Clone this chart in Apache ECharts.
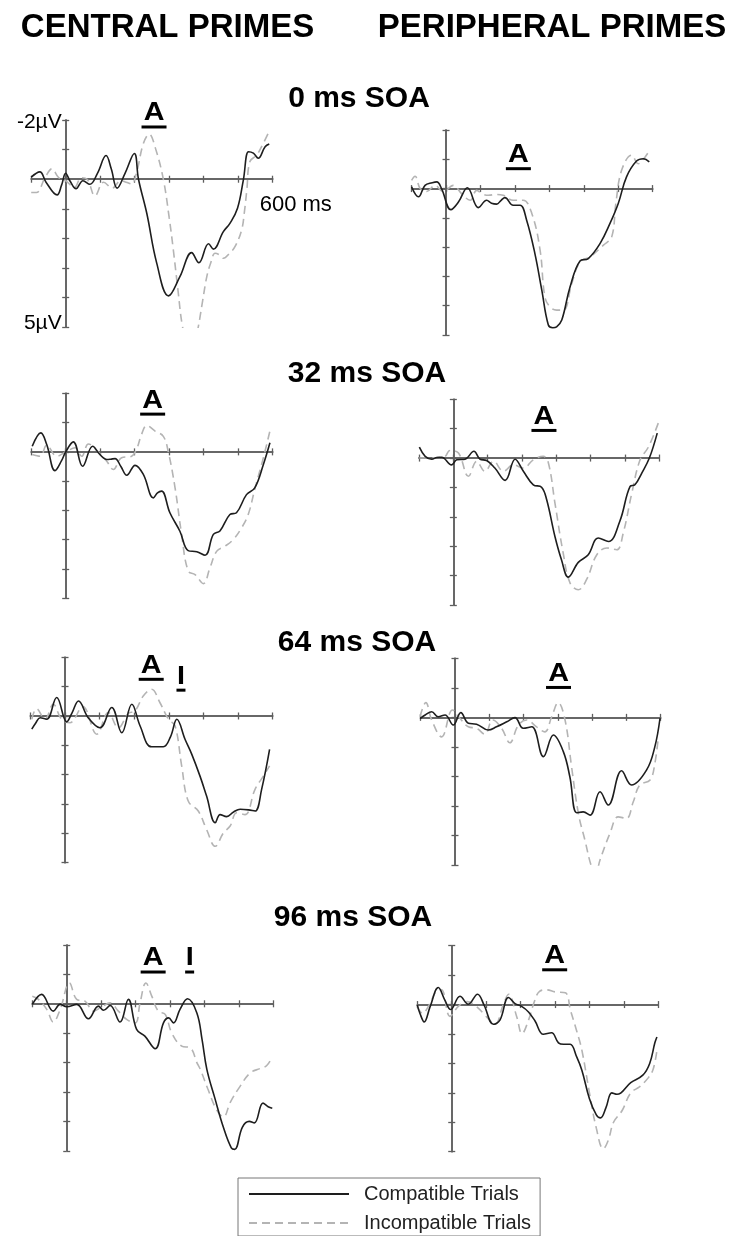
<!DOCTYPE html>
<html lang="en">
<head>
<meta charset="UTF-8">
<title>Central vs peripheral primes</title>
<script src="https://cdn.jsdelivr.net/npm/echarts@6/dist/echarts.min.js"></script>
<style>
  html, body { margin: 0; padding: 0; background: #fff; }
  #main { width: 739px; height: 1236px; }
</style>
</head>
<body>
<div id="main"></div>
<script>
// ---- data: [time ms, amplitude µV] ----
var central0Comp = [[-100,-0.07],[-75,-0.25],[-57,0.1],[-25,0.53],[-12,0.2],[0,-0.2],[12,0.05],[30,0.32],[50,0.05],[70,0.17],[92,-0.2],[117,-0.8],[132,-0.35],[149,0.3],[172,-0.2],[199,-0.87],[211,0],[235,1.15],[264,2.84],[298,3.94],[331,3.29],[365,2.48],[386,2.82],[414,2.18],[428,2.36],[457,1.77],[476,1.49],[498,0.98],[515,0.02],[530,-0.93],[544,-0.88],[558,-0.71],[578,-1.1],[590,-1.19]];
var central0Incomp = [[-100,0.45],[-85,0.45],[-60,-0.05],[-40,-0.35],[-20,-0.05],[0,0.05],[25,0.28],[45,-0.05],[62,0.0],[85,0.56],[110,0.1],[135,0.3],[160,0.05],[175,0.1],[191,0.16],[205,-0.2],[225,-1.2],[242,-1.52],[260,-1.05],[283,0],[300,1.3],[312,2.39],[325,3.7],[339,5.0],[355,5.6],[372,5.6],[384,5.0],[397,4.1],[409,3.29],[421,2.8],[433,2.5],[445,2.55],[457,2.67],[475,2.5],[491,2.27],[510,1.71],[518,1.1],[525,0.36],[534,-0.6],[554,-0.82],[573,-1.22],[587,-1.55]];
var peripheral0Comp = [[-100,-0.06],[-80,0.28],[-61,-0.11],[-40,-0.2],[-27,-0.23],[-13,0],[14,0.72],[36,0.46],[62,-0.03],[94,0.65],[118,0.4],[132,0.5],[147,0.53],[160,0.4],[171,0.31],[195,0.57],[215,0.57],[234,1.08],[258,2.22],[278,3.47],[297,4.66],[310,4.75],[321,4.72],[336,4.49],[360,3.36],[389,2.47],[413,2.39],[447,1.88],[476,1.19],[500,0.51],[524,-0.4],[553,-0.94],[573,-1.02],[590,-0.91]];
var peripheral0Incomp = [[-100,-0.28],[-90,-0.42],[-75,0],[-56,0.1],[-32,-0.11],[-8,0.11],[21,-0.11],[45,0.17],[70,0.4],[89,0.06],[105,0.18],[123,0.23],[145,0.2],[166,0.23],[195,0.4],[224,0.4],[249,0.85],[273,2.1],[287,3.7],[302,4.04],[321,4.15],[341,4.15],[365,3.24],[389,2.5],[418,2.33],[457,1.93],[481,1.65],[493,0.51],[510,-0.63],[539,-1.14],[558,-0.85],[578,-1.08],[592,-1.33]];
var central32Comp = [[-97,-0.19],[-72,-0.65],[-55,-0.25],[-31,0.64],[-12,0.3],[0,0],[22,-0.34],[49,0.49],[78,-0.19],[99,0.09],[119,0.26],[130,0.25],[143,0.23],[160,0.5],[177,0.8],[201,0.46],[225,0.77],[254,1.57],[266,1.4],[278,1.34],[302,2.08],[331,2.71],[355,3.37],[380,3.41],[404,3.53],[428,2.82],[447,2.7],[476,2.14],[495,2.08],[524,1.46],[548,1.23],[573,0.43],[592,-0.31]];
var central32Incomp = [[-97,0.09],[-74,0.15],[-55,-0.23],[-26,0.15],[3,-0.02],[27,-0.14],[46,0.15],[66,-0.27],[90,-0.05],[119,0.32],[138,0.6],[162,0.2],[191,0.15],[206,-0.11],[220,-0.6],[235,-0.9],[259,-0.71],[283,-0.53],[297,-0.02],[317,1.23],[336,2.82],[355,4.07],[375,4.19],[399,4.5],[418,3.96],[438,3.39],[462,3.22],[486,2.99],[510,2.59],[529,2.14],[549,1.23],[573,0.2],[594,-0.82]];
var peripheral32Comp = [[-99,-0.37],[-82,-0.06],[-63,0.04],[-48,-0.02],[-34,-0.03],[-5,0.23],[10,0.06],[34,0.04],[60,-0.23],[78,0.04],[97,0.08],[121,0.34],[151,0.76],[180,0.04],[204,0.45],[233,0.91],[257,0.99],[272,1.42],[296,2.67],[315,3.46],[335,4.05],[364,3.55],[393,3.29],[422,2.72],[452,2.84],[485,2.15],[515,0.96],[529,0.91],[549,0.51],[571,0],[594,-0.85]];
var peripheral32Incomp = [[-99,0],[-48,-0.02],[-25,-0.05],[-10,-0.26],[15,-0.17],[44,0.62],[68,0.11],[92,0.45],[117,0.11],[146,0.45],[175,0.23],[204,0.34],[233,0.06],[262,-0.06],[277,0.17],[296,1.53],[320,3.23],[340,4.25],[364,4.48],[388,4.14],[418,3.29],[447,3.06],[476,3.12],[495,2.55],[520,1.19],[544,0.06],[568,-0.37],[597,-1.19]];
var central64Comp = [[-96,0.45],[-85,0.25],[-72,0.06],[-53,0.11],[-24,-0.63],[5,0.2],[20,-0.1],[39,-0.51],[67,0.06],[101,0.4],[135,-0.29],[164,0.57],[193,-0.4],[217,0.34],[250,1.05],[284,1.05],[305,0.7],[323,0.11],[347,0.8],[366,1.3],[390,2.05],[409,2.73],[434,3.64],[448,3.36],[467,3.43],[487,3.27],[506,3.18],[530,3.2],[549,3.24],[568,2.5],[591,1.14]];
var central64Incomp = [[-96,0.11],[-82,-0.25],[-58,0.11],[-34,-0.4],[-10,0.11],[14,0.23],[51,-0.32],[92,0.62],[125,-0.12],[154,0.4],[183,-0.09],[202,-0.17],[226,-0.68],[250,-0.91],[274,-0.46],[299,0.11],[318,0.34],[337,1.7],[356,2.9],[385,3.24],[409,3.87],[434,4.44],[458,3.98],[477,3.75],[496,3.3],[520,3.36],[549,2.5],[573,2.05],[591,1.7]];
var peripheral64Comp = [[-102,0.04],[-87,-0.08],[-68,-0.19],[-49,-0.02],[-29,-0.08],[-5,0.26],[17,-0.16],[39,0.2],[63,0.23],[97,0.43],[121,0.32],[151,0.15],[175,0.01],[199,0.37],[224,0.32],[258,1.33],[287,0.6],[316,1.16],[335,2.01],[355,3.23],[374,3.2],[394,3.31],[423,2.52],[447,2.97],[486,1.81],[515,2.29],[559,1.78],[583,0.99],[598,0.03]];
var peripheral64Incomp = [[-102,-0.02],[-85,-0.5],[-68,0.09],[-39,0.66],[-7,-0.25],[15,0.04],[39,0.32],[63,0.37],[87,0.57],[110,0.09],[136,0.37],[160,0.86],[185,0.26],[209,0.09],[238,0.32],[262,0.49],[282,-0.02],[301,-0.5],[321,0.09],[340,1.67],[360,3.26],[379,4.16],[398,5.05],[410,5.3],[423,4.83],[452,3.93],[476,3.37],[500,3.42],[520,2.86],[539,2.29],[569,2.12],[583,1.56],[593,0.66]];
var central96Comp = [[-100,0.02],[-73,-0.32],[-39,0.25],[-19,0.02],[0,0.1],[29,0.02],[63,0.51],[92,0.08],[107,0.22],[126,0.06],[155,0.62],[179,-0.15],[203,0.87],[227,1.1],[257,1.53],[281,0.65],[296,0.48],[310,0.65],[329,0.19],[351,-0.17],[378,0.31],[393,1.21],[407,2.23],[430,3.2],[455,4.2],[478,4.9],[488,4.95],[510,4.2],[530,4.0],[545,4.05],[570,3.38],[585,3.5],[597,3.55]];
var central96Incomp = [[-100,-0.26],[-82,-0.15],[-58,0.19],[-39,0.62],[-19,0.19],[8,-0.71],[29,-0.15],[53,-0.09],[78,0.25],[102,0.1],[126,-0.03],[150,0.25],[174,0.53],[199,0.65],[213,-0.03],[230,-0.71],[247,-0.26],[266,0.25],[286,0.36],[305,0.99],[334,1.44],[359,1.5],[378,2.0],[388,2.23],[410,2.9],[435,3.6],[455,3.85],[475,3.35],[504,2.8],[533,2.35],[562,2.2],[581,2.1],[597,1.8]];
var peripheral96Comp = [[-100,0.02],[-92,0.31],[-80,0.59],[-63,0.08],[-39,-0.58],[-20,-0.15],[-3,0.17],[24,-0.28],[48,-0.01],[75,-0.35],[94,0.02],[121,0.67],[140,0.53],[165,-0.24],[184,-0.03],[203,0.06],[223,0.25],[242,0.56],[266,1.01],[290,0.96],[310,1.3],[325,1.35],[344,1.35],[363,1.78],[378,2.23],[400,3.2],[420,3.75],[432,3.85],[448,3.5],[465,3.0],[480,3.05],[520,2.65],[555,2.4],[575,2.0],[590,1.3],[596,1.1]];
var peripheral96Incomp = [[-100,0.06],[-85,0.3],[-65,0.0],[-45,-0.45],[-30,-0.5],[-5,0.4],[20,0.05],[45,-0.1],[70,0.05],[100,0.4],[125,0.67],[150,0.0],[165,-0.35],[189,0.42],[204,0.99],[223,0.53],[240,-0.1],[255,-0.45],[275,-0.5],[300,-0.43],[330,-0.4],[345,0.2],[363,0.9],[378,1.55],[400,3.0],[420,4.2],[440,4.9],[455,4.6],[470,4.0],[495,3.6],[520,3.0],[545,2.8],[570,2.5],[585,2.2],[596,1.55]];

var compatible = [central0Comp, peripheral0Comp, central32Comp, peripheral32Comp, central64Comp, peripheral64Comp, central96Comp, peripheral96Comp];
var incompatible = [central0Incomp, peripheral0Incomp, central32Incomp, peripheral32Incomp, central64Incomp, peripheral64Incomp, central96Incomp, peripheral96Incomp];

var columnTitles = ['CENTRAL PRIMES', 'PERIPHERAL PRIMES'];
var soaTitles = ['0 ms SOA', '32 ms SOA', '64 ms SOA', '96 ms SOA'];
var seriesNames = ['Compatible Trials', 'Incompatible Trials'];
// component markers: [panel, label, time ms, µV]
var markers = [[0,'A',256,-2.22],[1,'A',210,-1.14],[2,'A',252,-1.75],[3,'A',264,-1.4],[4,'A',249,-1.71],[4,'I',335,-1.34],[5,'A',302,-1.47],[6,'A',251,-1.54],[6,'I',357,-1.54],[7,'A',299,-1.64]];
var unitLabels = ['-2\u00b5V', '5\u00b5V', '600 ms'];
var timeMin = -100, timeMax = 600, timeStep = 100;
var voltMin = -2, voltMax = 5, voltStep = 1;

// ---- layout (pixels) ----
var gridBoxes = [
  [31.2, 120, 241.5, 207.3], [411.6, 130, 241.1, 205],
  [31.2, 393.3, 241.5, 205], [419, 399.3, 240.3, 205.7],
  [30.4, 657.3, 242.3, 205.4], [420.7, 658.3, 240, 206.7],
  [32.3, 945, 241, 205.8], [417.3, 945.7, 241, 206]
];
var columnTitleX = [167.5, 552];
var soaTitlePos = [[359, 99], [367, 374], [357, 643], [353, 918]];

var axisColor = '#5e5e5e';
var font = '"Liberation Sans", Arial, sans-serif';

var chart = echarts.init(document.getElementById('main'));

var grids = [], xAxes = [], yAxes = [], series = [];
gridBoxes.forEach(function (b, i) {
  grids.push({ left: b[0], top: b[1], width: b[2], height: b[3], outerBoundsMode: 'none' });
  ['bottom', 'top'].forEach(function (pos) {
    xAxes.push({
      gridIndex: i, type: 'value', position: pos,
      min: timeMin, max: timeMax, interval: timeStep,
      axisLine: { show: true, onZero: true, lineStyle: { color: axisColor, width: 1.5 } },
      axisTick: { show: true, length: 3.5, lineStyle: { color: axisColor, width: 1.3 } },
      axisLabel: { show: false },
      splitLine: { show: false }
    });
  });
  ['left', 'right'].forEach(function (pos) {
    yAxes.push({
      gridIndex: i, type: 'value', position: pos, inverse: true,
      min: voltMin, max: voltMax, interval: voltStep,
      axisLine: { show: true, onZero: true, lineStyle: { color: axisColor, width: 1.5 } },
      axisTick: { show: true, length: 3.5, lineStyle: { color: axisColor, width: 1.3 } },
      axisLabel: { show: false },
      splitLine: { show: false }
    });
  });
  series.push({
    name: seriesNames[1], type: 'line', xAxisIndex: 2 * i, yAxisIndex: 2 * i,
    data: incompatible[i], smooth: 0.4, symbol: 'none', showSymbol: false, z: 2,
    color: '#b4b4b4', lineStyle: { color: '#b4b4b4', width: 1.6, type: [8, 5] }
  });
  series.push({
    name: seriesNames[0], type: 'line', xAxisIndex: 2 * i, yAxisIndex: 2 * i,
    data: compatible[i], smooth: 0.4, symbol: 'none', showSymbol: false, z: 3,
    color: '#1e1e1e', lineStyle: { color: '#1e1e1e', width: 1.6 }
  });
});

chart.setOption({
  animation: false,
  backgroundColor: '#fff',
  textStyle: { fontFamily: font },
  grid: grids,
  xAxis: xAxes,
  yAxis: yAxes,
  legend: {
    data: seriesNames, orient: 'vertical', left: 238, top: 1178,
    padding: [6, 9, 3, 10], itemWidth: 100, itemHeight: 14, itemGap: 9,
    borderColor: '#777', borderWidth: 1, selectedMode: false,
    itemStyle: { opacity: 0 },
    textStyle: { fontSize: 20, color: '#222', fontFamily: font, lineHeight: 20, padding: [0, 0, 0, 10] }
  },
  series: series
});

// ---- text placed from the axes' scales ----
function txt(x, y, s, f, align, extra) {
  var el = {
    type: 'text', x: x, y: y, silent: true,
    style: { text: s, font: f, fill: '#000', align: align, textAlign: align, verticalAlign: 'middle', textVerticalAlign: 'middle' }
  };
  if (extra) { for (var k in extra) el[k] = extra[k]; }
  return el;
}
var graphics = [];
columnTitles.forEach(function (s, j) {
  graphics.push(txt(columnTitleX[j], 28, s, 'bold 33px ' + font, 'center'));
});
soaTitles.forEach(function (s, r) {
  graphics.push(txt(soaTitlePos[r][0], soaTitlePos[r][1], s, 'bold 30px ' + font, 'center'));
});
var topPt = chart.convertToPixel({ xAxisIndex: 0, yAxisIndex: 0 }, [0, voltMin]);
var botPt = chart.convertToPixel({ xAxisIndex: 0, yAxisIndex: 0 }, [0, voltMax]);
var endPt = chart.convertToPixel({ xAxisIndex: 0, yAxisIndex: 0 }, [timeMax, 0]);
graphics.push(txt(topPt[0] - 4, topPt[1] + 2.5, unitLabels[0], '21px ' + font, 'right'));
graphics.push(txt(botPt[0] - 4, botPt[1] - 4, unitLabels[1], '21px ' + font, 'right'));
graphics.push(txt(endPt[0] - 13, endPt[1] + 26, unitLabels[2], '22px ' + font, 'left'));
markers.forEach(function (m) {
  var p = chart.convertToPixel({ xAxisIndex: 2 * m[0], yAxisIndex: 2 * m[0] }, [m[2], m[3]]);
  var w = m[1] === 'A' ? 25 : 9;
  graphics.push({
    type: 'group', x: p[0], y: p[1], silent: true,
    children: [
      txt(0, 0, m[1], 'bold 25px ' + font, 'center', { scaleX: 1.15 }),
      { type: 'rect', shape: { x: -w / 2, y: 12, width: w, height: 3 }, style: { fill: '#000' } }
    ]
  });
});
chart.setOption({ graphic: graphics });
</script>
</body>
</html>
